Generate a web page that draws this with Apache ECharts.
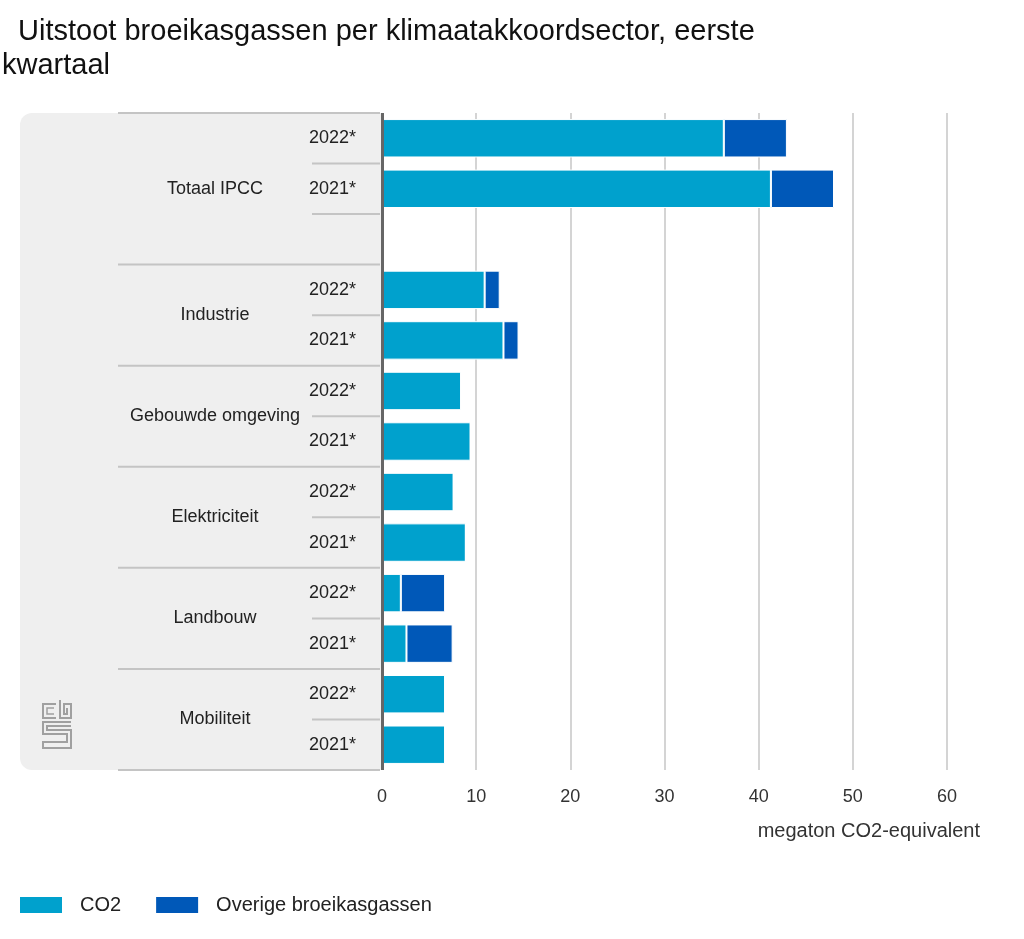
<!DOCTYPE html>
<html>
<head>
<meta charset="utf-8">
<script src="https://cdn.jsdelivr.net/npm/echarts@6/dist/echarts.min.js"></script>
<style>
html,body{margin:0;padding:0;background:#fff;}
#main{width:1024px;height:939px;}
</style>
</head>
<body>
<div id="main"></div>
<script>
const sectors = ['Totaal IPCC', 'Industrie', 'Gebouwde omgeving', 'Elektriciteit', 'Landbouw', 'Mobiliteit'];
const years = ['2022*', '2021*'];
// rows top to bottom; '' marks the empty slot after Totaal IPCC
const rowSector = ['Totaal IPCC','Totaal IPCC','Totaal IPCC','Industrie','Industrie','Gebouwde omgeving','Gebouwde omgeving','Elektriciteit','Elektriciteit','Landbouw','Landbouw','Mobiliteit','Mobiliteit'];
const rowYear = ['2022*','2021*','','2022*','2021*','2022*','2021*','2022*','2021*','2022*','2021*','2022*','2021*'];
const co2 = [36.3, 41.3, null, 10.9, 12.9, 8.4, 9.4, 7.6, 8.9, 2.0, 2.6, 6.7, 6.7];
const overige = [6.7, 6.7, null, 1.6, 1.6, 0, 0, 0, 0, 4.7, 4.9, 0, 0];
const xTicks = [0, 10, 20, 30, 40, 50, 60];
const seriesNames = ['CO2', 'Overige broeikasgassen'];
const axisName = 'megaton CO2-equivalent';
const title = 'Uitstoot broeikasgassen per klimaatakkoordsector, eerste';
const title2 = 'kwartaal';

const categories = rowSector.map((s, i) => s + '|' + rowYear[i] + '|' + i);
const FONT = '"Liberation Sans", Arial, sans-serif';

const chart = echarts.init(document.getElementById('main'), null, {renderer: 'canvas'});
const option = {
  backgroundColor: '#ffffff',
  animation: false,
  title: {
    text: '\u00a0\u00a0' + title + '\n' + title2,
    left: 2, top: 15, padding: 0,
    textStyle: {fontFamily: FONT, fontSize: 29, fontWeight: 'normal', color: '#111', lineHeight: 34}
  },
  grid: {left: 382, right: 77, top: 113, bottom: 169, containLabel: false},
  legend: {
    left: 20, top: 895, padding: 0,
    itemWidth: 42, itemHeight: 16, itemGap: 35,
    icon: 'rect',
    itemStyle: {borderWidth: 0},
    textStyle: {fontFamily: FONT, fontSize: 20, color: '#222', padding: [0, 0, 0, 13]},
    data: seriesNames
  },
  xAxis: {
    type: 'value', min: 0, max: 60, interval: 10,
    axisLine: {show: false}, axisTick: {show: false},
    axisLabel: {fontFamily: FONT, fontSize: 18, color: '#333', margin: 18, formatter: v => xTicks.includes(v) ? String(v) : ''},
    splitLine: {show: true, lineStyle: {color: '#d4d4d4', width: 2}}
  },
  yAxis: {
    type: 'category', inverse: true, data: categories,
    axisLine: {show: false},
    axisTick: {show: false},
    axisLabel: {fontFamily: FONT, fontSize: 18, color: '#222', margin: 26, formatter: v => v.split('|')[1]}
  },
  series: [
    {name: seriesNames[0], type: 'bar', stack: 'a', data: co2, barCategoryGap: '24%',
     itemStyle: {color: '#00a1cd', borderColor: '#ffffff', borderWidth: 1}},
    {name: seriesNames[1], type: 'bar', stack: 'a', data: overige, barCategoryGap: '24%',
     itemStyle: {color: '#0058b8', borderColor: '#ffffff', borderWidth: 1}}
  ]
};
chart.setOption(option);

// Build left panel graphics from the axis scale
const gridTop = 113, gridBottom = 939 - 169;
const axisX = chart.convertToPixel({xAxisIndex: 0}, 0);
const yOf = i => chart.convertToPixel({yAxisIndex: 0}, categories[i]);
const slotH = Math.abs(yOf(1) - yOf(0));
const g = [];
g.push({type: 'rect', z: -10, shape: {x: 20, y: gridTop, width: axisX - 20, height: gridBottom - gridTop, r: [12, 0, 0, 12]}, style: {fill: '#efefef'}});
// group boundaries
const groups = [];
rowSector.forEach((s, i) => {
  if (!groups.length || groups[groups.length - 1].name !== s) groups.push({name: s, start: i, end: i});
  else groups[groups.length - 1].end = i;
});
groups.forEach((gr, gi) => {
  const top = yOf(gr.start) - slotH / 2;
  const bot = yOf(gr.end) + slotH / 2;
  g.push({type: 'line', z: -5, shape: {x1: 118, y1: top, x2: axisX - 2, y2: top}, style: {stroke: '#c4c4c4', lineWidth: 2}});
  if (gi === groups.length - 1) g.push({type: 'line', z: -5, shape: {x1: 118, y1: bot, x2: axisX - 2, y2: bot}, style: {stroke: '#c4c4c4', lineWidth: 2}});
  for (let i = gr.start; i < gr.end; i++) {
    const yy = yOf(i) + slotH / 2;
    g.push({type: 'line', z: -5, shape: {x1: 312, y1: yy, x2: axisX - 2, y2: yy}, style: {stroke: '#c4c4c4', lineWidth: 2}});
  }
  g.push({type: 'text', z: 5, x: 215, y: (top + bot) / 2, style: {text: gr.name, fontFamily: FONT, fontSize: 18, fill: '#222', align: 'center', verticalAlign: 'middle'}});
});
// value axis zero line, drawn on top
g.push({type: 'line', z: 100, shape: {x1: axisX + 0.5, y1: gridTop, x2: axisX + 0.5, y2: gridBottom}, style: {stroke: '#666666', lineWidth: 3}});
// axis name
g.push({type: 'text', x: 980, y: 831, style: {text: axisName, fontFamily: FONT, fontSize: 20, fill: '#333', align: 'right', verticalAlign: 'middle'}});
// cbs logo (simplified)
const lc = '#a0a0a0';
g.push({type: 'polyline', shape: {points: [[56, 704], [43, 704], [43, 718], [56, 718]]}, style: {stroke: lc, lineWidth: 2, fill: null}});
g.push({type: 'polyline', shape: {points: [[54, 708], [47, 708], [47, 714], [54, 714]]}, style: {stroke: lc, lineWidth: 1.5, fill: null}});
g.push({type: 'polyline', shape: {points: [[60, 700], [60, 718], [71, 718], [71, 704], [64, 704], [64, 714], [67, 714], [67, 708]]}, style: {stroke: lc, lineWidth: 2, fill: null}});
g.push({type: 'polyline', shape: {points: [[71, 722], [43, 722], [43, 734], [67, 734], [67, 742], [43, 742], [43, 748], [71, 748], [71, 730], [47, 730], [47, 726], [71, 726]]}, style: {stroke: lc, lineWidth: 2, fill: null}});
chart.setOption({graphic: g});
</script>
</body>
</html>
